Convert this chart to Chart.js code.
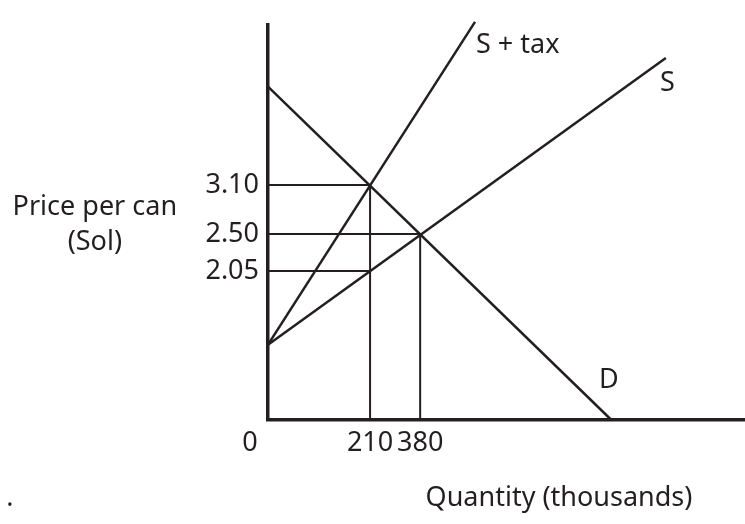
<!DOCTYPE html>
<html>
<head>
<meta charset="utf-8">
<script src="https://cdn.jsdelivr.net/npm/chart.js@4"></script>
<style>
  html, body { margin: 0; background: #fff; }
  #wrap { width: 745px; height: 524px; }
</style>
</head>
<body>
<div id="wrap"><canvas id="taxChart"></canvas></div>
<script>
"use strict";

const INK = '#231f20';
const FONT = '"Noto Sans", "DejaVu Sans", sans-serif';
const FONT_SIZE = 27;

// quantity axis is schematic (not to scale): 0..100 units across the plot
const qTickPos = [21.4, 31.9];
const qTickLabels = ['210', '380'];
const priceTicks = [2.05, 2.50, 3.10];
const P_MIN = 0.23, P_MAX = 5.05;

// curves
const demand = [{ x: 0, y: 4.30 }, { x: 72, y: P_MIN }];
const supply = [{ x: 0, y: 1.15 }, { x: 83.4, y: 4.65 }];
const supplyTax = [{ x: 0, y: 1.15 }, { x: 43.4, y: 5.09 }];

// guide lines to the axes
const guideTax = [{ x: 0, y: 3.10 }, { x: 21.4, y: 3.10 }, { x: 21.4, y: P_MIN }];
const guideEq = [{ x: 0, y: 2.50 }, { x: 31.9, y: 2.50 }, { x: 31.9, y: P_MIN }];
const guideSeller = [{ x: 0, y: 2.05 }, { x: 21.4, y: 2.05 }];

// text labels (placed in data units)
const labels = [
    { text: 'S + tax', x: 43.6, y: 4.80, align: 'left' },
    { text: 'S', x: 82.2, y: 4.34, align: 'left' },
    { text: 'D', x: 69.4, y: 0.71, align: 'left' },
    { text: '0', x: -3.8, y: -0.05, align: 'center' },
    { text: 'Price per can', x: -36.3, y: 2.83, align: 'center' },
    { text: '(Sol)', x: -36.3, y: 2.40, align: 'center' },
    { text: 'Quantity (thousands)', x: 61.0, y: -0.73, align: 'center' },
    { text: '.', x: -54.1, y: -0.73, align: 'center' }
];

const textPlugin = {
    id: 'diagramText',
    afterDraw(chart) {
        const { ctx, scales: { x, y } } = chart;
        ctx.save();
        ctx.fillStyle = INK;
        ctx.font = FONT_SIZE + 'px ' + FONT;
        ctx.textBaseline = 'middle';
        labels.forEach(l => {
            ctx.textAlign = l.align;
            ctx.fillText(l.text, x.getPixelForValue(l.x), y.getPixelForValue(l.y));
        });
        ctx.restore();
    }
};

function lineSet(data, width) {
    return {
        data, borderColor: INK, borderWidth: width, pointRadius: 0,
        fill: false, tension: 0, clip: false
    };
}

new Chart(document.getElementById('taxChart'), {
    type: 'line',
    data: {
        datasets: [
            lineSet(demand, 2.5),
            lineSet(supply, 2.5),
            lineSet(supplyTax, 2.5),
            lineSet(guideTax, 2),
            lineSet(guideEq, 2),
            lineSet(guideSeller, 2)
        ]
    },
    options: {
        responsive: true,
        maintainAspectRatio: false,
        animation: false,
        layout: { padding: { top: 16, right: 0, left: 0, bottom: 0 } },
        plugins: { legend: { display: false }, tooltip: { enabled: false }, title: { display: false } },
        scales: {
            x: {
                type: 'linear', min: 0, max: 100,
                afterBuildTicks: s => { s.ticks = qTickPos.map(v => ({ value: v })); },
                afterFit: s => { s.height = 104; },
                ticks: {
                    color: INK, padding: 7, maxRotation: 0, autoSkip: false,
                    font: { family: FONT, size: FONT_SIZE },
                    callback: (v, i) => qTickLabels[i]
                },
                grid: { display: false, drawTicks: false },
                border: { display: true, color: INK, width: 3.5 }
            },
            y: {
                type: 'linear', min: P_MIN, max: P_MAX,
                afterBuildTicks: s => { s.ticks = priceTicks.map(v => ({ value: v })); },
                afterFit: s => { s.width = 268; },
                ticks: {
                    color: INK, padding: 9, autoSkip: false,
                    font: { family: FONT, size: FONT_SIZE },
                    callback: v => v.toFixed(2)
                },
                grid: { display: false, drawTicks: false },
                border: { display: true, color: INK, width: 3.5 }
            }
        }
    },
    plugins: [textPlugin]
});
</script>
</body>
</html>
